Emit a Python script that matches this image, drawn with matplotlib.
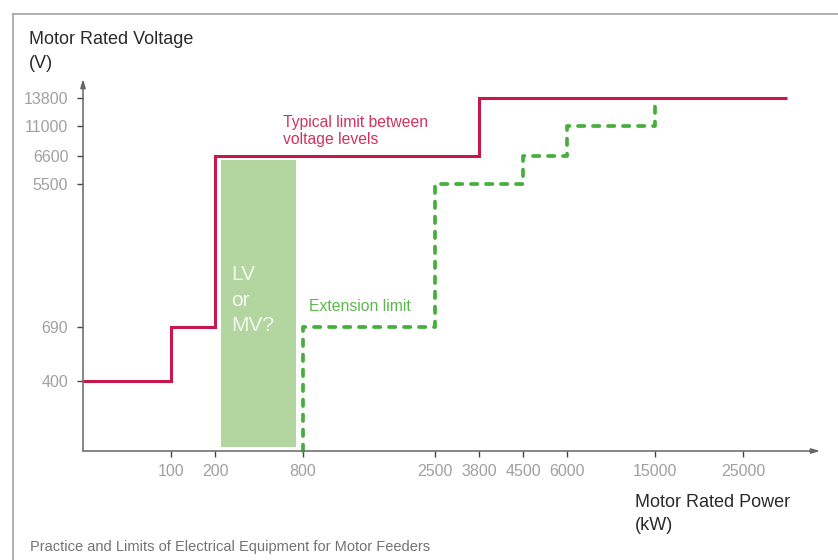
import numpy as np
import matplotlib
matplotlib.use("Agg")
import matplotlib.pyplot as plt
from matplotlib.lines import Line2D

# ---------------- data ----------------
x_ticks = [100, 200, 800, 2500, 3800, 4500, 6000, 15000, 25000]
y_ticks = [400, 690, 5500, 6600, 11000, 13800]

# typical limit between voltage levels (step, post)
typical_x = [0, 100, 200, 3800, 30000]
typical_y = [400, 690, 6600, 13800, 13800]

# extension limit (step, post)
ext_x = [800, 800, 2500, 4500, 6000, 15000]
ext_y = [0, 690, 5500, 6600, 11000, 13800]

# LV or MV? zone
zone_x = [240, 750]
zone_y = [25, 6430]

# ---------------- non-uniform axis scales ----------------
xs_val = [0, 100, 200, 800, 2500, 3800, 4500, 6000, 15000, 25000, 35000]
xs_pos = [0, 2, 3, 5, 8, 9, 10, 11, 13, 15, 17]
ys_val = [0, 400, 690, 5500, 6600, 11000, 13800, 16000]
ys_pos = [0, 70, 124.3, 266.7, 295.3, 325.3, 353.3, 375.3]

def xf(v):
    return np.interp(v, xs_val, xs_pos)

def xi(p):
    return np.interp(p, xs_pos, xs_val)

def yf(v):
    return np.interp(v, ys_val, ys_pos)

def yi(p):
    return np.interp(p, ys_pos, ys_val)

W, H = 838, 560
plt.rcParams["font.family"] = ["Liberation Sans", "DejaVu Sans"]
fig = plt.figure(figsize=(W / 100, H / 100), dpi=100)
ax = fig.add_axes([83 / W, 109 / H, 737 / W, 372 / H])
ax.set_xscale("function", functions=(xf, xi))
ax.set_yscale("function", functions=(yf, yi))
ax.set_xlim(0, 33750)
ax.set_ylim(0, 15670)

RED = "#C8174B"
GREEN = "#47AE3E"
ZONE = "#B3D6A0"

ax.fill_between(zone_x, zone_y[0], zone_y[1], color=ZONE, lw=0, zorder=1)
ax.plot(typical_x, typical_y, drawstyle="steps-post", color=RED, lw=2.2,
        solid_joinstyle="miter", solid_capstyle="butt", zorder=3)
ax.plot(ext_x, ext_y, drawstyle="steps-post", color=GREEN, lw=2.7,
        ls=(0, (1.7, 2.3)), dash_capstyle="round", dash_joinstyle="round",
        clip_on=False, zorder=3)

# axes styling
for s in ["top", "right", "left", "bottom"]:
    ax.spines[s].set_visible(False)
AX = "#666666"
ax.annotate("", xy=(1, 0), xytext=(0, 0), xycoords="axes fraction",
            arrowprops=dict(arrowstyle="-|>,head_length=0.5,head_width=0.15",
                            color=AX, lw=1.1, shrinkA=0, shrinkB=0))
ax.annotate("", xy=(0, 1), xytext=(0, 0), xycoords="axes fraction",
            arrowprops=dict(arrowstyle="-|>,head_length=0.5,head_width=0.15",
                            color=AX, lw=1.1, shrinkA=0, shrinkB=0))

ax.set_xticks(x_ticks)
ax.set_xticklabels([str(v) for v in x_ticks])
ax.set_yticks(y_ticks)
ax.set_yticklabels([str(v) for v in y_ticks])
ax.minorticks_off()
ax.tick_params(axis="x", direction="out", length=4, width=1, color="#444444",
               labelcolor="#A0A0A0", labelsize=11.5, pad=5.5)
ax.tick_params(axis="y", direction="out", length=4.3, width=1, color="#444444",
               labelcolor="#A0A0A0", labelsize=11.5, pad=6.3)

def ftext(x, y, s, **kw):
    fig.text(x / W, 1 - y / H, s, va="baseline", ha="left", **kw)

ftext(29, 44.3, "Motor Rated Voltage", fontsize=13, color="#2a2a2a")
ftext(29, 68.3, "(V)", fontsize=13, color="#2a2a2a")
ftext(635, 507.3, "Motor Rated Power", fontsize=13, color="#2a2a2a")
ftext(635, 530, "(kW)", fontsize=13, color="#2a2a2a")
ftext(29.5, 551, "Practice and Limits of Electrical Equipment for Motor Feeders",
      fontsize=10.5, color="#737373")

ftext(283, 126.7, "Typical limit between", fontsize=11.3, color="#D0335E")
ftext(283, 144, "voltage levels", fontsize=11.3, color="#D0335E")
ftext(309, 310.7, "Extension limit", fontsize=11.3, color="#5CB84E")

ftext(231, 280, "LV", fontsize=15, color="#F2F8EF")
ftext(231, 305.7, "or", fontsize=15, color="#F2F8EF")
ftext(231, 330.7, "MV?", fontsize=15, color="#F2F8EF")

# outer frame (top and left)
FR = "#AAAAAA"
fig.add_artist(Line2D([12.5 / W, 1], [1 - 13.5 / H, 1 - 13.5 / H],
                      transform=fig.transFigure, color=FR, lw=1.3))
fig.add_artist(Line2D([12.5 / W, 12.5 / W], [0, 1 - 13.5 / H],
                      transform=fig.transFigure, color=FR, lw=1.3))

fig.savefig("out.png", dpi=100)
